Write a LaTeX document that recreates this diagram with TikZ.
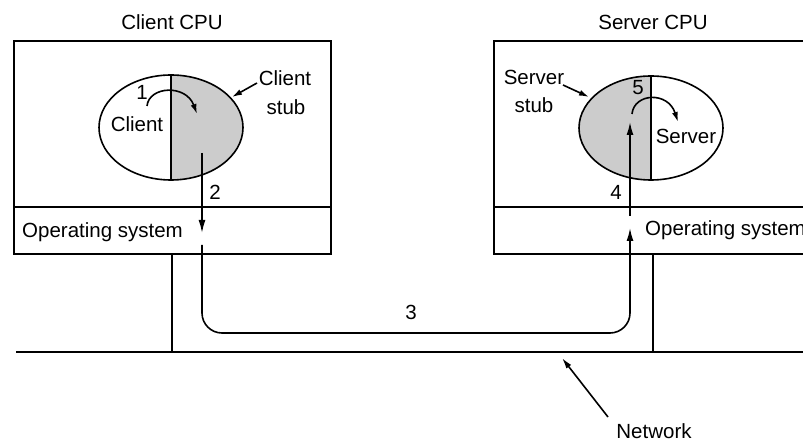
\documentclass[tikz,border=0pt]{standalone}
\usepackage{fontspec}
\setmainfont{Liberation Sans}
\usetikzlibrary{arrows.meta,shapes.geometric}
\begin{document}
\begin{tikzpicture}[x=1pt,y=-1pt,
  lbl/.style={inner sep=0pt,font=\fontsize{20.5}{24}\selectfont},
  box/.style={draw,line width=1.8pt},
  cell/.style={ellipse,draw,line width=1.6pt,minimum width=144pt,minimum height=105pt,inner sep=0pt},
  arr/.style={line width=1.6pt,-{Latex[length=13pt,width=7pt]}},
  smallarr/.style={line width=1.6pt,-{Latex[length=10pt,width=6pt]}}]
\useasboundingbox (0,0) rectangle (803,443);
\clip (0,0) rectangle (803,443);
\fill[white] (0,0) rectangle (803,443);
% client machine
\draw[box] (14,41) rectangle (331,254);
\draw[box] (14,207) -- (331,207);
\node[lbl] (ccpu) at (172,22) {Client CPU};
\node[lbl,anchor=west] (cos) at (22,232) {Operating system};
% server machine
\draw[box] (830,41) -- (494,41) -- (494,254) -- (830,254);
\draw[box] (494,207) -- (830,207);
\node[lbl] (scpu) at (653,22) {Server CPU};
\node[lbl,anchor=west] (sos) at (645,230) {Operating system};
% network
\coordinate (nl) at (16,352);
\coordinate (nr) at (830,352);
\draw[line width=2.2pt] (nl) -- (nr);
\coordinate (ctap) at (172,254);
\coordinate (ctapb) at (172,352);
\coordinate (stap) at (653,254);
\coordinate (stapb) at (653,352);
\draw[box] (ctap) -- (ctapb);
\draw[box] (stap) -- (stapb);
% client ellipse
\fill[black!20] (171,75) arc[start angle=90,end angle=-90,x radius=72,y radius=-52.5] -- cycle;
\node[cell] (ccell) at (171,127.5) {};
\draw[line width=1.6pt] (ccell.north) -- (ccell.south);
\node[lbl] (cname) at (137,124) {Client};
\node[lbl] (one) at (142,92) {1};
% server ellipse
\fill[black!20] (651,76) arc[start angle=90,end angle=270,x radius=72,y radius=-52] -- cycle;
\node[cell,minimum height=104pt] (scell) at (651,128) {};
\draw[line width=1.6pt] (scell.north) -- (scell.south);
\node[lbl] (sname) at (686,136) {Server};
\node[lbl] (five) at (638,88) {5};
% stub labels
\node[lbl] (cstub1) at (285,78) {Client};
\node[lbl] (cstub2) at (286,107) {stub};
\node[lbl] (sstub1) at (534,77) {Server};
\node[lbl] (sstub2) at (534,105) {stub};
\coordinate (cst) at (257,83);
\coordinate (cse) at (232,97);
\coordinate (sst) at (563,85);
\coordinate (sse) at (589,97);
\draw[smallarr] (cst) -- (cse);
\draw[smallarr] (sst) -- (sse);
% step 1 and 5 curved arrows
\coordinate (a1s) at (147,106);
\coordinate (a1e) at (197,114);
\draw[smallarr] (a1s) .. controls (149,86) and (186,84) .. (a1e);
\coordinate (a5s) at (632,114);
\coordinate (a5e) at (678,122);
\draw[smallarr] (a5s) .. controls (634,93) and (668,91) .. (a5e);
% step 2
\coordinate (a2s) at (202,153);
\coordinate (a2e) at (202,233);
\draw[arr] (a2s) -- (a2e);
\node[lbl] (two) at (215,192) {2};
% step 3
\coordinate (a3s) at (202,245);
\coordinate (a3c) at (630,333);
\coordinate (a3e) at (630,228);
\draw[arr,rounded corners=20pt] (a3s) |- (a3c) -- (a3e);
\node[lbl] (three) at (411,312) {3};
% step 4
\coordinate (a4s) at (630,216);
\coordinate (a4e) at (630,122);
\draw[arr] (a4s) -- (a4e);
\node[lbl] (four) at (616,192) {4};
% network label
\node[lbl] (net) at (654,431) {Network};
\coordinate (nets) at (608,417);
\coordinate (nete) at (562,358);
\draw[arr,-{Latex[length=11pt,width=6pt]}] (nets) -- (nete);
\end{tikzpicture}
\end{document}
